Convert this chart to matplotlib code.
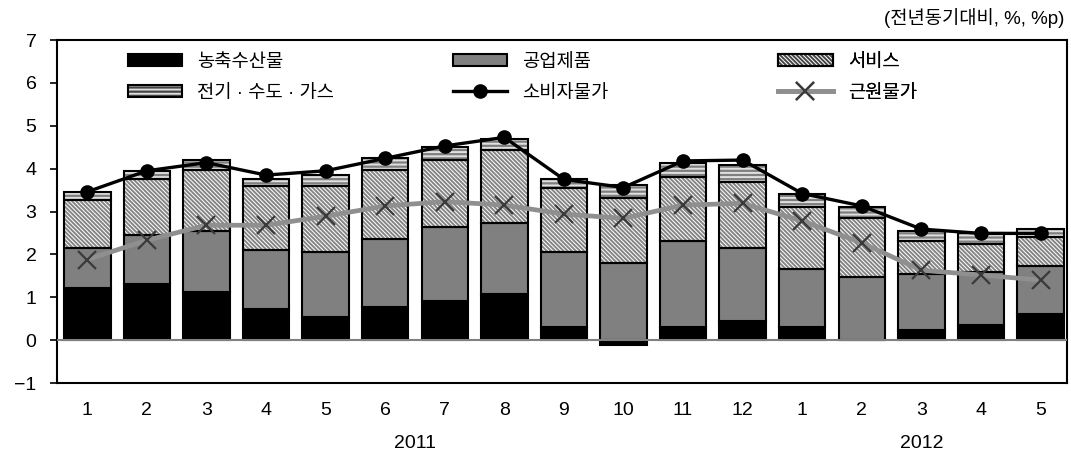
import numpy as np
import matplotlib.pyplot as plt
from matplotlib.patches import Patch
from matplotlib.lines import Line2D
from matplotlib.legend_handler import HandlerTuple

plt.rcParams['font.family'] = ['Liberation Sans', 'Noto Sans CJK KR']
plt.rcParams['hatch.linewidth'] = 1.4
plt.rcParams['axes.unicode_minus'] = True

# data (contributions, %p) and headline rates (%)
months = ['1', '2', '3', '4', '5', '6', '7', '8', '9', '10', '11', '12', '1', '2', '3', '4', '5']
years = ['2011', '2012']
agri = [1.21, 1.32, 1.13, 0.72, 0.54, 0.78, 0.92, 1.07, 0.30, -0.12, 0.30, 0.45, 0.30, 0.00, 0.23, 0.35, 0.60]
industrial = [0.94, 1.13, 1.42, 1.38, 1.52, 1.58, 1.72, 1.67, 1.76, 1.79, 2.02, 1.70, 1.37, 1.48, 1.31, 1.23, 1.13]
service = [1.12, 1.30, 1.43, 1.50, 1.54, 1.62, 1.57, 1.69, 1.49, 1.52, 1.48, 1.54, 1.43, 1.38, 0.77, 0.66, 0.67]
utility = [0.19, 0.20, 0.22, 0.15, 0.25, 0.26, 0.29, 0.26, 0.20, 0.31, 0.34, 0.39, 0.31, 0.25, 0.24, 0.25, 0.19]
cpi = [3.46, 3.95, 4.14, 3.85, 3.95, 4.24, 4.53, 4.73, 3.75, 3.56, 4.18, 4.20, 3.42, 3.13, 2.59, 2.49, 2.49]
core = [1.88, 2.33, 2.68, 2.68, 2.89, 3.13, 3.23, 3.15, 2.94, 2.84, 3.15, 3.19, 2.78, 2.27, 1.63, 1.52, 1.40]

labels = ['농축수산물', '공업제품', '서비스', '전기 · 수도 · 가스', '소비자물가', '근원물가']

x = np.arange(1, len(months) + 1)
w = 0.78
srv_hatch = '\\' * 8
utl_hatch = '-' * 4

fig = plt.figure(figsize=(10.71, 4.57), dpi=100)
ax = fig.add_axes([0.0535, 0.1619, 0.9428, 0.7505])

agri_a = np.array(agri)
pos_base = np.clip(agri_a, 0, None)
b1 = pos_base + np.array(industrial)
b2 = b1 + np.array(service)

edge = dict(edgecolor='black', linewidth=1.5, zorder=3)

# 농축수산물
ax.bar(x, agri_a, w, color='black', **edge)
# 공업제품
ax.bar(x, industrial, w, bottom=pos_base, color='#808080', **edge)
# 서비스 (hatch layer + border)
ax.bar(x, service, w, bottom=b1, color='white', hatch=srv_hatch, edgecolor='#858585', linewidth=0, zorder=2)
ax.bar(x, service, w, bottom=b1, fill=False, **edge)
# 전기·수도·가스
ax.bar(x, utility, w, bottom=b2, color='#7f7f7f', hatch=utl_hatch, edgecolor='#e0e0e0', linewidth=0, zorder=2)
ax.bar(x, utility, w, bottom=b2, fill=False, **edge)

ax.axhline(0, color='#808080', lw=1.5, zorder=4)

ax.plot(x, core, color='#8f8f8f', lw=3.4, zorder=5)
ax.plot(x, core, ls='none', marker='x', ms=13, mew=1.6, color='#3a3a3a', zorder=6)
ax.plot(x, cpi, color='black', lw=2.4, marker='o', ms=9.5, zorder=7)

ax.set_xlim(0.497, 17.445)
ax.set_ylim(-1, 7)
ax.set_yticks(range(-1, 8))
ax.set_yticklabels(['\u22121'] + [str(v) for v in range(0, 8)])
ax.set_xticks(x)
ax.set_xticklabels(months)
ax.tick_params(axis='x', length=0, pad=14, labelsize=14)
ax.tick_params(axis='y', direction='out', length=5, width=1.2, labelsize=14, pad=10)
for s in ax.spines.values():
    s.set_linewidth(1.5)

# year labels
ax.text(np.mean(x[:12]), -0.175, years[0], transform=ax.get_xaxis_transform(),
        ha='center', va='center', fontsize=14)
ax.text(np.mean(x[12:]), -0.175, years[1], transform=ax.get_xaxis_transform(),
        ha='center', va='center', fontsize=14)

fig.text(0.9935, 0.96, '(전년동기대비, %, %p)', ha='right', va='center', fontsize=13.5)

# legend handles
h_agri = Patch(facecolor='black', edgecolor='black', lw=1.5)
h_ind = Patch(facecolor='#808080', edgecolor='black', lw=1.5)
h_srv = (Patch(facecolor='white', hatch=srv_hatch, edgecolor='#444444', lw=0),
         Patch(fill=False, edgecolor='black', lw=1.5))
h_utl = (Patch(facecolor='#444444', hatch=utl_hatch, edgecolor='#e0e0e0', lw=0),
         Patch(fill=False, edgecolor='black', lw=1.5))
h_cpi = Line2D([], [], color='black', lw=2.4, marker='o', ms=9.5)
h_core = (Line2D([], [], color='#8f8f8f', lw=3.4),
          Line2D([], [], ls='none', marker='x', ms=13, mew=1.6, color='#3a3a3a'))

cols = [([h_agri, h_utl], [labels[0], labels[3]], 0.070),
        ([h_ind, h_cpi], [labels[1], labels[4]], 0.392),
        ([h_srv, h_core], [labels[2], labels[5]], 0.714)]
for hs, ls, xa in cols:
    leg = ax.legend(hs, ls, loc='upper left', bbox_to_anchor=(xa, 0.960), frameon=False,
                    borderpad=0, borderaxespad=0, fontsize=13.5, handlelength=2.9,
                    handleheight=0.65, handletextpad=0.8, labelspacing=0.75,
                    handler_map={tuple: HandlerTuple(ndivide=1, pad=0)})
    ax.add_artist(leg)

fig.savefig('out.png', dpi=100)
